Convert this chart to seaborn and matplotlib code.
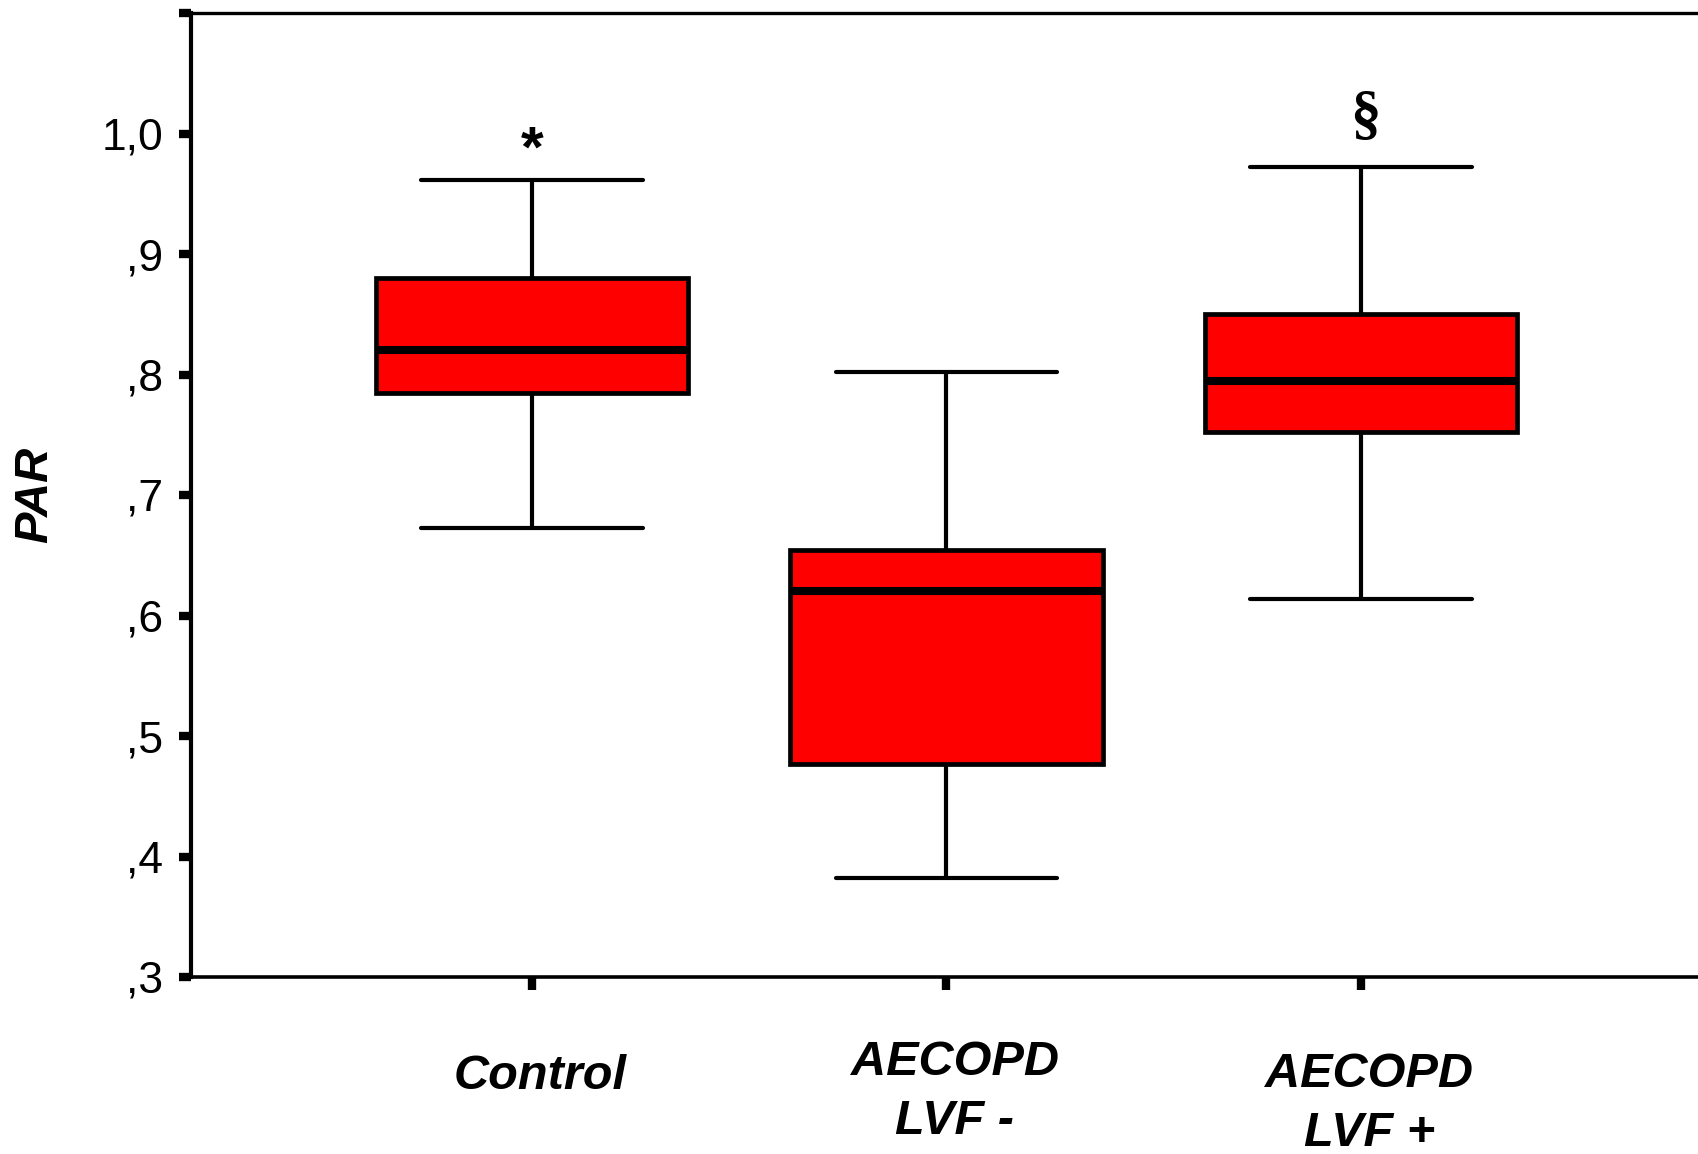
import numpy as np
import pandas as pd
import matplotlib
matplotlib.use("Agg")
import matplotlib.pyplot as plt
import matplotlib.transforms as mtransforms
import seaborn as sns

# ---- data (whisker low, Q1, median, Q3, whisker high) ----
groups = ["Control", "AECOPD\nLVF -", "AECOPD\nLVF +"]
control_vals = [0.673, 0.785, 0.820, 0.880, 0.961]
lvf_neg_vals = [0.382, 0.477, 0.620, 0.654, 0.802]
lvf_pos_vals = [0.614, 0.752, 0.795, 0.850, 0.972]
y_ticks = [0.3, 0.4, 0.5, 0.6, 0.7, 0.8, 0.9, 1.0, 1.1]
y_tick_labels = [",3", ",4", ",5", ",6", ",7", ",8", ",9", "1,0", ""]
annotations = ["*", "", "§"]
annotation_y = [0.985, None, 1.014]
y_label = "PAR"

df = pd.DataFrame({
    "group": np.repeat(groups, 5),
    "PAR": control_vals + lvf_neg_vals + lvf_pos_vals,
})

sns.set_style("white")
plt.rcParams["font.family"] = ["Liberation Sans", "DejaVu Sans"]
plt.rcParams["text.color"] = "black"
plt.rcParams["xtick.color"] = "black"
plt.rcParams["ytick.color"] = "black"
plt.rcParams["axes.labelcolor"] = "black"

fig = plt.figure(figsize=(16.99, 11.54), dpi=100)
ax = fig.add_axes([191 / 1699, 1 - 977 / 1154, 1 - 191 / 1699, (977 - 13) / 1154])

sns.boxplot(
    data=df, x="group", y="PAR", order=groups, ax=ax,
    whis=(0, 100), width=0.753, color="#ff0000", saturation=1,
    linecolor="black", linewidth=3.0, showfliers=False,
    boxprops=dict(linewidth=3.4, edgecolor="black", facecolor="#ff0000"),
    medianprops=dict(linewidth=5.8, color="black", solid_capstyle="butt"),
    whiskerprops=dict(linewidth=3.0, color="black"),
    capprops=dict(linewidth=3.0, color="black"),
)

# adjust cap width
cap_half = 0.535 / 2
for cont in ax.containers:
    if hasattr(cont, "caps"):
        for cap in cont.caps:
            xd = cap.get_xdata()
            xc = (xd[0] + xd[1]) / 2
            cap.set_xdata([xc - cap_half, xc + cap_half])

ax.set_xlim(-0.8227, 2.8155)
ax.set_ylim(0.3, 1.1)
ax.set_yticks(y_ticks)
ax.set_yticklabels(y_tick_labels, fontsize=32, color="black")
ax.set_xticks(range(len(groups)))
ax.set_xticklabels([""] * len(groups))
ax.set_xlabel("")

ax.tick_params(axis="both", direction="out", length=9, width=6, color="black",
               left=True, bottom=True)
ax.tick_params(axis="y", pad=11)

for side in ["left", "bottom", "top"]:
    ax.spines[side].set_visible(True)
    ax.spines[side].set_color("black")
ax.spines["left"].set_linewidth(3.0)
ax.spines["bottom"].set_linewidth(2.6)
ax.spines["top"].set_linewidth(2.4)
ax.spines["right"].set_visible(False)

ax.set_ylabel(y_label, fontsize=34, fontweight="bold", fontstyle="italic",
              color="black")
ax.yaxis.set_label_coords(-0.089, 0.5)

trans = mtransforms.blended_transform_factory(ax.transData, ax.transAxes)
label_y = [-0.1027, -0.1188, -0.1317]
for i, (g, yy) in enumerate(zip(groups, label_y)):
    ax.text(i + 0.02, yy, g, transform=trans, ha="center", va="center",
            fontsize=35, fontweight="bold", fontstyle="italic",
            linespacing=1.4, clip_on=False, color="black")

for i, (a, ay) in enumerate(zip(annotations, annotation_y)):
    if a == "*":
        ax.text(i, ay, a, ha="center", va="center", fontsize=42,
                fontweight="bold", color="black")
    elif a:
        ax.text(i + 0.01, ay, a, ha="center", va="center", fontsize=44,
                fontweight="bold", color="black",
                family=["Liberation Serif", "DejaVu Serif"])

fig.savefig("out.png", dpi=100, facecolor="white")
